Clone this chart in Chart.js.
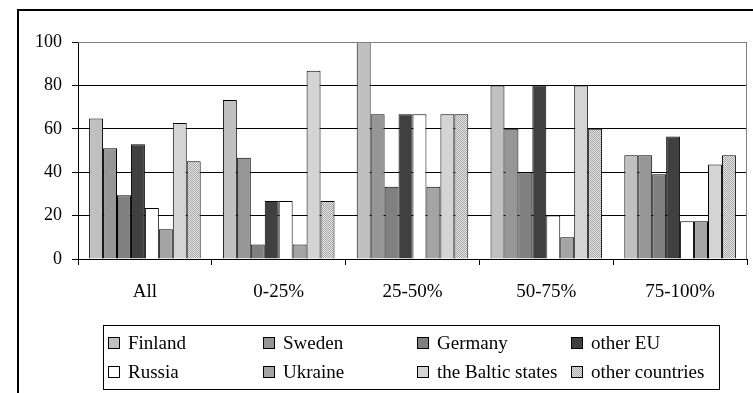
<!DOCTYPE html>
<html>
<head>
<meta charset="utf-8">
<script src="https://cdn.jsdelivr.net/npm/chart.js@4"></script>
<style>
  html, body { margin: 0; padding: 0; background: #fff; }
  #wrap { width: 753px; height: 393px; position: relative; }
</style>
</head>
<body>
<div id="wrap"><canvas id="shareChart"></canvas></div>
<script>
// categories and series
const groups = ['All', '0-25%', '25-50%', '50-75%', '75-100%'];
const countries = ['Finland', 'Sweden', 'Germany', 'other EU', 'Russia', 'Ukraine', 'the Baltic states', 'other countries'];

const finland    = [64.7, 73.3, 100, 80, 47.8];
const sweden     = [51, 46.7, 66.7, 60, 47.8];
const germany    = [29.4, 6.7, 33.3, 40, 39.1];
const otherEU    = [52.9, 26.7, 66.7, 80, 56.5];
const russia     = [23.5, 26.7, 66.7, 20, 17.4];
const ukraine    = [13.7, 6.7, 33.3, 10, 17.4];
const baltic     = [62.7, 86.7, 66.7, 80, 43.5];
const otherCntry = [45.1, 26.7, 66.7, 60, 47.8];

const yTicks = [0, 20, 40, 60, 80, 100];

// dotted fill for "other countries"
const makeDots = () => {
  const c = document.createElement('canvas');
  c.width = 2; c.height = 2;
  const g = c.getContext('2d');
  g.fillStyle = '#e4e4e4';
  g.fillRect(0, 0, 2, 2);
  g.fillStyle = '#a8a8a8';
  g.fillRect(0, 0, 1, 1);
  g.fillRect(1, 1, 1, 1);
  return g.createPattern(c, 'repeat');
};
const dots = makeDots();

const fills = ['#c0c0c0', '#969696', '#808080', '#404040', '#ffffff', '#a4a4a4', '#d4d4d4', dots];
const seriesValues = [finland, sweden, germany, otherEU, russia, ukraine, baltic, otherCntry];

const serif = '"Liberation Serif", "Times New Roman", serif';

// frame, right border and boxed legend
const framePlugin = {
  id: 'frame',
  afterDraw(chart) {
    const ctx = chart.ctx;
    const a = chart.chartArea;
    ctx.save();
    ctx.strokeStyle = '#808080';
    ctx.lineWidth = 1;
    ctx.beginPath();
    ctx.moveTo(a.left, a.top + 0.5);
    ctx.lineTo(a.right - 0.5, a.top + 0.5);
    ctx.lineTo(a.right - 0.5, a.bottom);
    ctx.stroke();

    ctx.strokeStyle = '#000';
    ctx.lineWidth = 2;
    ctx.strokeRect(18, 10, 900, 600);

    // legend box
    ctx.lineWidth = 1;
    ctx.strokeStyle = '#000';
    ctx.strokeRect(103.5, 325.5, 616, 64);
    const colX = [108, 263, 417, 571];
    const rowY = [343, 372];
    ctx.font = '19px ' + serif;
    ctx.textBaseline = 'middle';
    ctx.fillStyle = '#000';
    countries.forEach((name, i) => {
      const x = colX[i % 4];
      const y = rowY[Math.floor(i / 4)];
      ctx.fillStyle = fills[i];
      ctx.fillRect(x, y - 6, 12, 12);
      ctx.strokeStyle = '#000';
      ctx.strokeRect(x + 0.5, y - 5.5, 11, 11);
      ctx.fillStyle = '#000';
      ctx.fillText(name, x + 20, y + 1);
    });
    ctx.restore();
  }
};

const ctx = document.getElementById('shareChart');

const shareChart = new Chart(ctx, {
  type: 'bar',
  data: {
    labels: groups,
    datasets: countries.map((name, i) => ({
      label: name,
      data: seriesValues[i],
      backgroundColor: fills[i],
      borderColor: '#000',
      borderWidth: 1,
      barPercentage: 1.0,
      categoryPercentage: 0.834,
    }))
  },
  options: {
    responsive: true,
    maintainAspectRatio: false,
    animation: false,
    devicePixelRatio: 1,
    layout: { padding: { left: 0, right: 6, top: 42, bottom: 83 } },
    plugins: {
      legend: { display: false },
      tooltip: { enabled: false }
    },
    scales: {
      x: {
        grid: {
          offset: true,
          drawOnChartArea: false,
          drawTicks: true,
          tickLength: 6,
          tickColor: '#000',
        },
        border: { color: '#000', width: 1 },
        ticks: {
          color: '#000',
          font: { family: serif, size: 19 },
          padding: 16,
          maxRotation: 0,
        },
        afterFit(scale) { scale.height = 51; }
      },
      y: {
        min: 0,
        max: 100,
        afterBuildTicks(scale) { scale.ticks = yTicks.map(v => ({ value: v })); },
        grid: {
          color: c => (c.tick && c.tick.value === 100) ? '#808080' : '#000',
          tickColor: '#000',
          tickLength: 6,
        },
        border: { color: '#000', width: 1 },
        ticks: {
          color: '#000',
          font: { family: serif, size: 18 },
          padding: 10,
        },
        afterFit(scale) { scale.width = 78; }
      }
    }
  },
  plugins: [framePlugin]
});
</script>
</body>
</html>
